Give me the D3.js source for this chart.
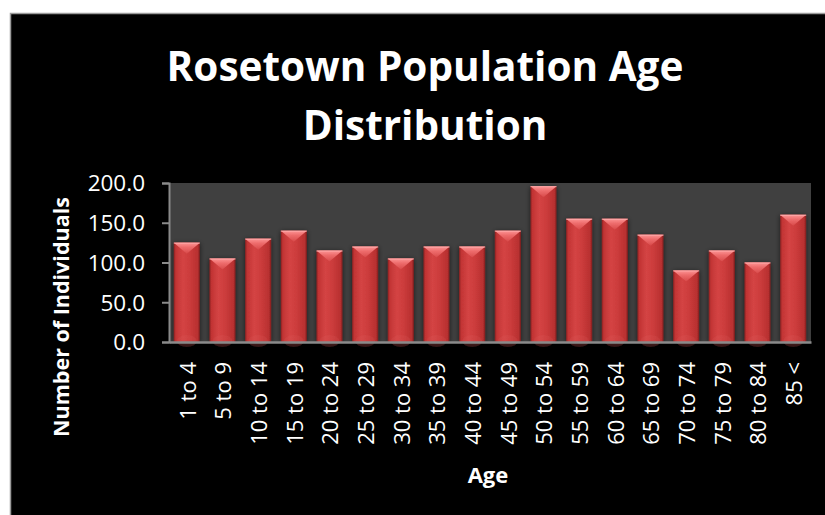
<!DOCTYPE html>
<html>
<head>
<meta charset="utf-8">
<script src="https://cdn.jsdelivr.net/npm/d3@7"></script>
<style>
  html, body { margin: 0; padding: 0; background: #ffffff; }
  svg { display: block; }
  text { font-family: "Open Sans", "Liberation Sans", sans-serif; fill: #ffffff; }
</style>
</head>
<body>
<svg id="chart" width="825" height="515"></svg>
<script>
const categories = ["1 to 4","5 to 9","10 to 14","15 to 19","20 to 24","25 to 29","30 to 34","35 to 39","40 to 44","45 to 49","50 to 54","55 to 59","60 to 64","65 to 69","70 to 74","75 to 79","80 to 84","85 <"];
const values = [125,105,130,140,115,120,105,120,120,140,196,155,155,135,90,115,100,160];
const yTicks = [0,50,100,150,200];
const titleLines = ["Rosetown Population Age","Distribution"];
const xTitle = "Age";
const yTitle = "Number of Individuals";

const svg = d3.select("#chart");
const W = 825, H = 515;
const m = {left:169, right:811, top:183, bottom:342};

// defs
const defs = svg.append("defs");
const g1 = defs.append("linearGradient").attr("id","barGrad").attr("x1","0").attr("x2","1").attr("y1","0").attr("y2","0");
[[0,"#8e2222"],[0.08,"#c23434"],[0.35,"#d44444"],[0.6,"#cc3c3c"],[0.92,"#b83030"],[1,"#7e1e1e"]]
  .forEach(([o,c])=>g1.append("stop").attr("offset",o).attr("stop-color",c));
const g2 = defs.append("linearGradient").attr("id","capGrad").attr("x1","0").attr("x2","0").attr("y1","0").attr("y2","1");
[[0,"#ff9a9a"],[0.4,"#f07070"],[1,"#d84a4a"]]
  .forEach(([o,c])=>g2.append("stop").attr("offset",o).attr("stop-color",c));
const f = defs.append("filter").attr("id","shadow").attr("x","-30%").attr("y","-10%").attr("width","160%").attr("height","120%");
f.append("feGaussianBlur").attr("in","SourceAlpha").attr("stdDeviation",2.5).attr("result","b");
f.append("feOffset").attr("in","b").attr("dx",0).attr("dy",1).attr("result","o");
f.append("feComponentTransfer").attr("in","o").attr("result","o2").append("feFuncA").attr("type","linear").attr("slope",0.6);
const fm = f.append("feMerge");
fm.append("feMergeNode").attr("in","o2");
fm.append("feMergeNode").attr("in","SourceGraphic");

// background panel
svg.append("rect").attr("x",10.5).attr("y",13.5).attr("width",W).attr("height",H)
  .attr("fill","#000").attr("stroke","#9a9a9a").attr("stroke-width",1.5);

// scales
const x = d3.scaleBand().domain(categories).range([m.left, m.right]).paddingInner(0.27).paddingOuter(0.135);
const y = d3.scaleLinear().domain([0,200]).range([m.bottom, m.top]);

// plot area
svg.append("rect").attr("x",m.left).attr("y",m.top).attr("width",m.right-m.left).attr("height",m.bottom-m.top).attr("fill","#404040");

// bars
const bars = svg.append("g").selectAll("g").data(categories).join("g").attr("filter","url(#shadow)");
bars.append("rect")
  .attr("x",d=>x(d)).attr("width",x.bandwidth())
  .attr("y",(d,i)=>y(values[i])).attr("height",(d,i)=>y(0)-y(values[i]))
  .attr("fill","url(#barGrad)");
bars.append("path")
  .attr("d",(d,i)=>{
    const x0=x(d), w=x.bandwidth(), t=y(values[i]);
    return `M${x0},${t}L${x0+w},${t}L${x0+w/2},${t+11}Z`;
  })
  .attr("fill","url(#capGrad)").attr("opacity",0.95);
bars.append("line")
  .attr("x1",d=>x(d)).attr("x2",d=>x(d)+x.bandwidth())
  .attr("y1",(d,i)=>y(values[i])+0.5).attr("y2",(d,i)=>y(values[i])+0.5)
  .attr("stroke","#ffb0b0").attr("stroke-width",1).attr("opacity",0.8);
bars.append("ellipse")
  .attr("cx",d=>x(d)+x.bandwidth()/2).attr("cy",m.bottom-1).attr("rx",d=>x.bandwidth()/2-3).attr("ry",6)
  .attr("fill","#e06060").attr("opacity",0.18);

// y axis
const yAxis = svg.append("g").attr("transform",`translate(${m.left},0)`)
  .call(d3.axisLeft(y).tickValues(yTicks).tickFormat(d3.format(".1f")).tickSize(7).tickPadding(17));
yAxis.select(".domain").attr("stroke","#8a8a8a").attr("stroke-width",2);
yAxis.selectAll(".tick line").attr("stroke","#8a8a8a").attr("stroke-width",2);
yAxis.selectAll(".tick text").attr("fill","#fff").style("font-size","22.5px").style("font-family","'Open Sans', sans-serif").attr("dy","0.35em");

// x axis
const xAxis = svg.append("g").attr("transform",`translate(0,${m.bottom})`)
  .call(d3.axisBottom(x).tickSize(0).tickPadding(0));
xAxis.select(".domain").attr("stroke","#8a8a8a").attr("stroke-width",2.5);
xAxis.selectAll(".tick text")
  .attr("fill","#fff").style("font-size","22px").style("font-family","'Open Sans', sans-serif")
  .attr("transform","rotate(-90)").attr("text-anchor","end")
  .attr("x",-20).attr("y",1).attr("dy","0.36em");

// titles
const title = svg.append("text").attr("text-anchor","middle").style("font-weight","bold").style("font-size","40.5px");
titleLines.forEach((t,i)=>title.append("tspan").attr("x",425).attr("y",81+i*59).text(t));

svg.append("text").attr("x",488).attr("y",483).attr("text-anchor","middle")
  .style("font-weight","bold").style("font-size","22px").text(xTitle);

svg.append("text").attr("transform","translate(69,317) rotate(-90)").attr("text-anchor","middle")
  .style("font-weight","bold").style("font-size","21.5px").text(yTitle);
</script>
</body>
</html>
